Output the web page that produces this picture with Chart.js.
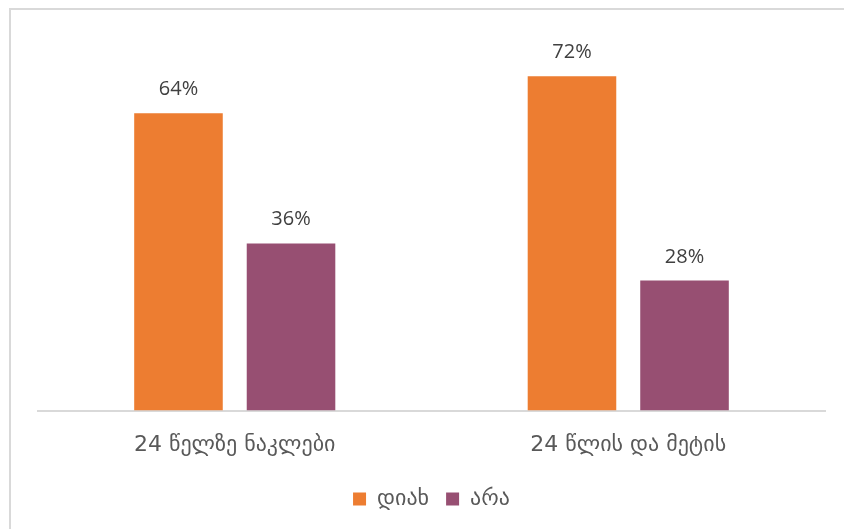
<!DOCTYPE html>
<html>
<head>
<meta charset="utf-8">
<script src="https://cdn.jsdelivr.net/npm/chart.js@4/dist/chart.umd.min.js"></script>
<style>
    html, body { margin: 0; padding: 0; background: #fff; overflow: hidden; }
    #wrap { position: relative; width: 844px; height: 529px; overflow: hidden; }
    #frame { position: absolute; left: 9px; top: 8px; right: 0; bottom: 0; border-left: 2px solid #d9d9d9; border-top: 2px solid #d9d9d9; pointer-events: none; }
</style>
</head>
<body>
<div id="wrap">
    <canvas id="chart" width="844" height="529"></canvas>
    <div id="frame"></div>
</div>
<script>
const categories = ['24 წელზე ნაკლები', '24 წლის და მეტის'];
const seriesNames = ['დიახ', 'არა'];
const yesValues = [64, 72];
const noValues = [36, 28];
const seriesColors = ['#ED7D31', '#974F72'];

// Percent labels above each bar
const valueLabels = {
    id: 'valueLabels',
    afterDatasetsDraw(chart) {
        const ctx = chart.ctx;
        ctx.save();
        ctx.font = '20px "Open Sans", "Liberation Sans", sans-serif';
        ctx.fillStyle = '#404040';
        ctx.textAlign = 'center';
        ctx.textBaseline = 'alphabetic';
        chart.data.datasets.forEach((ds, i) => {
            chart.getDatasetMeta(i).data.forEach((bar, j) => {
                ctx.fillText(ds.data[j] + '%', bar.x, bar.y - 18);
            });
        });
        ctx.restore();
    }
};

new Chart(document.getElementById('chart').getContext('2d'), {
    type: 'bar',
    data: {
        labels: categories,
        datasets: [
            { label: seriesNames[0], data: yesValues, backgroundColor: seriesColors[0] },
            { label: seriesNames[1], data: noValues, backgroundColor: seriesColors[1] }
        ]
    },
    options: {
        responsive: false,
        animation: false,
        layout: { padding: { left: 38, right: 19, top: 39, bottom: 9 } },
        datasets: { bar: { categoryPercentage: 0.572, barPercentage: 0.787 } },
        scales: {
            y: { display: false, min: 0, max: 80 },
            x: {
                grid: { display: false },
                border: { display: true, color: '#d9d9d9', width: 2 },
                ticks: {
                    padding: 13,
                    color: '#595959',
                    font: { family: '"DejaVu Sans", sans-serif', size: 22 }
                }
            }
        },
        plugins: {
            tooltip: { enabled: false },
            legend: {
                position: 'bottom',
                labels: {
                    boxWidth: 13,
                    boxHeight: 13,
                    padding: 17,
                    color: '#595959',
                    font: { family: '"DejaVu Sans", sans-serif', size: 22 }
                }
            }
        }
    },
    plugins: [valueLabels]
});
</script>
</body>
</html>
